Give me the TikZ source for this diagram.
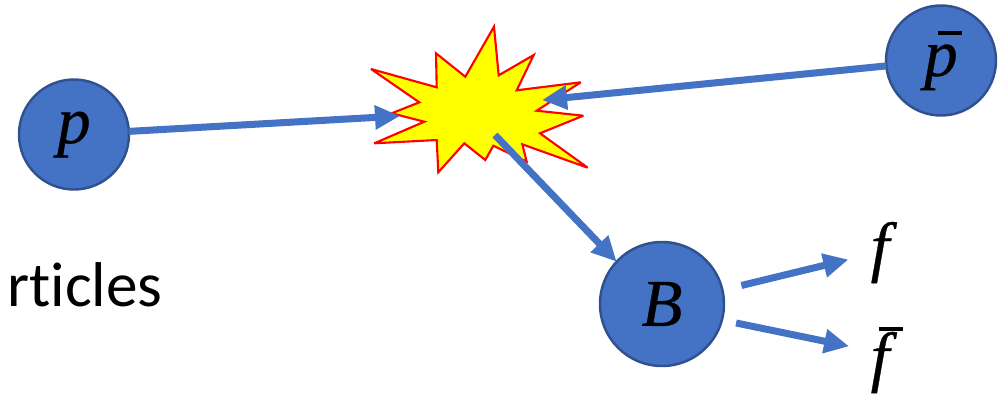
\documentclass[tikz,border=0pt]{standalone}
\usepackage{fix-cm}
\usepackage[no-math]{fontspec}
\setmainfont[Ligatures=NoCommon,Contextuals=NoAlternate]{Carlito}
\newfontfamily\mates[FakeBold=0.5]{Liberation Serif}
\usepackage{xcolor}
\usepackage{tikz}
\usetikzlibrary{arrows.meta}
\definecolor{azul}{HTML}{4472C4}
\definecolor{azuloscuro}{HTML}{2F528F}
\definecolor{amarillo}{HTML}{FFFF00}
\definecolor{rojo}{HTML}{FF0000}
\newcommand{\letra}[1]{\mbox{\mates\itshape #1}}
\newcommand{\letrabarra}[3]{\mbox{\letra{#1}\kern#2\llap{\raisebox{#3}{\rule{4.8mm}{0.8mm}}}\kern-#2}}
\tikzset{
  bola/.style={circle,draw=azuloscuro,fill=azul,line width=1.4pt,outer sep=0pt,inner sep=0pt,font=\fontsize{38}{40}\selectfont},
  flecha/.style={-{Triangle[length=5mm,width=4.6mm]},line width=4pt,azul},
  estallido/.style={draw=rojo,fill=amarillo,line width=1.2pt,miter limit=4},
  etiqueta/.style={inner sep=0pt,outer sep=0pt,font=\fontsize{38}{40}\selectfont},
}
\begin{document}
\begin{tikzpicture}[x=0.2mm,y=-0.2mm]
  \useasboundingbox (0,0) rectangle (1007,397);
  \draw[estallido] (371,69) -- (436.7,87.3) -- (436,53.3) -- (465.3,76.7) -- (494,26.7) -- (498.7,75.3) -- (533.7,55) -- (516.7,90.3) -- (580.7,82.3) -- (536.7,110.7) -- (583.3,115.7) -- (540,133.3) -- (587.7,167.7) -- (522.3,144.3) -- (526.7,161.7) -- (493.3,145.7) -- (485.3,160) -- (464.3,143.3) -- (438.3,172.3) -- (436.7,140) -- (374.3,143.3) -- (424.3,121.7) -- (391.7,113.3) -- (419.3,102.3) -- cycle;
  \coordinate (choquep) at (400,116);
  \coordinate (choquepbar) at (542,100);
  \coordinate (choqueB) at (495,135);
  \node[bola,minimum size=22mm] (p) at (74,134.5) {\letra{p}};
  \node[bola,minimum size=22mm] (pbar) at (941,60.5) {\letrabarra{p}{0.8mm}{8.2mm}};
  \node[bola,minimum size=24.8mm] (B) at (662,304) {\letra{B}};
  \node[etiqueta] (f) at (880,252.5) {\letra{f}};
  \node[etiqueta] (fbar) at (880,360) {\letrabarra{f}{2.8mm}{9.6mm}};
  \node[anchor=base east,inner sep=0pt,font=\fontsize{36}{40}\selectfont] (texto) at (163,306.7) {rticles};
  \draw[flecha] (p) -- (choquep);
  \draw[flecha] (pbar) -- (choquepbar);
  \draw[flecha] (choqueB) -- (B.137);
  \draw[flecha,shorten <=3.9mm,shorten >=4.6mm] (B.13) -- (f.190);
  \draw[flecha,shorten <=2.9mm,shorten >=4.4mm] (B.-15) -- (fbar.135);
\end{tikzpicture}
\end{document}
